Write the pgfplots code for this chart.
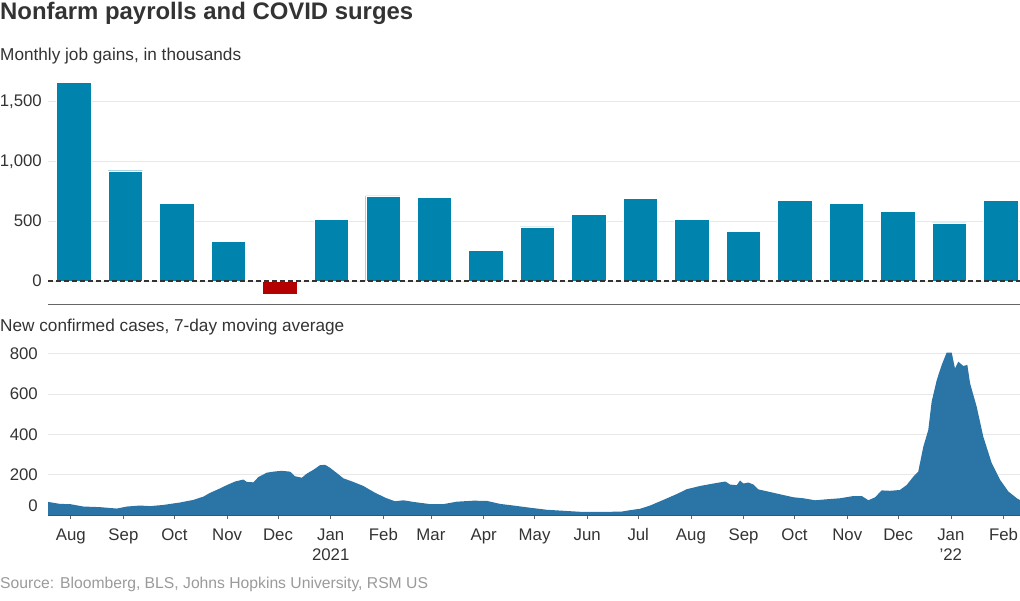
\documentclass[border=0pt]{standalone}
\usepackage{fontspec}
\setmainfont{Liberation Sans}
\usepackage{pgfplots}
\pgfplotsset{compat=1.18}

\definecolor{barblue}{HTML}{0084AD}
\definecolor{barred}{HTML}{B30000}
\definecolor{areablue}{HTML}{2B74A6}
\definecolor{gridgray}{HTML}{E8E8E8}
\definecolor{txt}{HTML}{333333}
\definecolor{srcgray}{HTML}{9A9A9A}

\newcommand\tickfont{\fontsize{16.8}{19}\selectfont}
\newcommand\subfont{\fontsize{17.2}{20}\selectfont}

% x in days since 1 Aug 2020
\pgfplotsset{
  covid/.style={
    scale only axis, width=972pt, anchor=north west,
    xmin=-13.4, xmax=558.7,
    axis lines*=left,
    y axis line style={draw=none},
    ytick style={draw=none},
    grid style={gridgray, line width=0.8pt},
    ymajorgrids,
    tick label style={font=\tickfont, text=txt},
    yticklabel style={anchor=east, inner sep=0pt, xshift=-6pt},
    /pgf/number format/assume math mode=true,
    /pgf/number format/1000 sep={,},
  }
}

\begin{document}
\begin{tikzpicture}
\useasboundingbox (0,0) rectangle (1020pt,-600pt);

\node[anchor=base west, inner sep=0, text=txt, font=\fontsize{23.9}{27}\selectfont\bfseries] at (0pt,-19.8pt) {Nonfarm payrolls and COVID surges};
\node[anchor=base west, inner sep=0, text=txt, font=\subfont] at (0pt,-60pt) {Monthly job gains, in thousands};
\node[anchor=base west, inner sep=0, text=txt, font=\subfont] at (0pt,-331pt) {New confirmed cases, 7-day moving average};
\node[anchor=base west, inner sep=0, text=srcgray, font=\fontsize{15.7}{18}\selectfont] at (0pt,-588pt) {Source: Bloomberg, BLS, Johns Hopkins University, RSM US};

% payrolls
\begin{axis}[covid,
  at={(48pt,-77.7pt)}, height=226.6pt,
  ymin=-195, ymax=1700,
  ytick={0,500,1000,1500},
  xtick=\empty,
  x axis line style={draw=black!60, line width=0.8pt},
]
\addplot[ybar, bar width=20.2, fill=barblue, draw=white, line width=0.4pt] coordinates {
  (1.8,1661) (32.1,922) (62.4,650) (92.7,332)
  (153.4,516) (183.7,711) (214.0,702) (244.3,259) (274.6,452)
  (304.9,560) (335.2,694) (365.5,518) (395.8,418) (426.1,677)
  (456.5,652) (486.8,585) (517.1,485) (547.4,677)
};
\addplot[ybar, bar width=20.2, fill=barred, draw=white, line width=0.4pt] coordinates {
  (123.0,-109)
};
\addplot[txt, line width=1.3pt, dash pattern=on 5pt off 3pt] coordinates {
  (-13.4,0) (558.7,0)
};
\end{axis}

% cases
\begin{axis}[covid,
  at={(48pt,-350.6pt)}, height=164.4pt,
  ymin=0, ymax=815, clip=false,
  ytick={200,400,600,800},
  extra y ticks={0},
  extra y tick style={grid=none, yticklabel style={yshift=9pt}},
  xtick={0,31,61,92,122,153,184,212,243,273,304,334,365,396,426,457,487,518,549},
  xticklabels={Aug,Sep,Oct,Nov,Dec,Jan,Feb,Mar,Apr,May,Jun,Jul,Aug,Sep,Oct,Nov,Dec,Jan,Feb},
  xticklabel style={anchor=base, yshift=-21.7pt},
  tick align=outside, major tick length=4pt,
  xtick style={draw=black!60, line width=0.6pt},
  x axis line style={draw=black!70, line width=0.8pt},
]
\addplot[fill=areablue, draw=none] table {
x y
-13.4 65
-6.3 55
-0.4 54
7.4 42
17.2 39
27.1 32
33 42
40.8 47
46.7 44
54.5 50
64.3 62
72.2 75
78 91
82 110
87.9 132
91.8 148
96.7 166
101.6 176
103.6 164
107.5 162
110.4 188
115.4 210
120.2 216
124.2 219
129.1 215
132 192
136 185
138.9 205
142.8 224
146.7 247
149.7 249
152.6 234
156.6 208
160.4 182
166.3 164
172.2 144
178.1 115
185 86
190.9 68
195.8 73
201.6 65
211.5 54
219.3 54
227.2 66
237 71
244.9 70
252.7 55
260.5 47
270.4 36
280.2 26
289.9 21
301.7 15
311.5 15
324.3 17
329.2 24
335.1 31
341 47
348.8 75
356.7 104
362.6 128
370.4 144
378.2 156
385.1 166
386.1 162
388 151
392 148
393.9 171
395.9 156
398.8 161
401.8 151
404.7 127
411.6 114
419.4 99
425.3 88
431.2 83
438.1 73
445 78
452.8 83
460.6 94
465.6 94
469.5 73
473.4 88
477.3 122
482.2 120
488 124
492 149
495.9 190
498.8 215
501.8 339
504.7 421
506.7 562
509.7 669
512.6 744
515.5 805
518.5 805
520.4 727
522.4 760
525.3 739
527.7 744
529.3 653
533.2 537
537.1 388
542.1 256
547 174
551.9 116
556.8 83
558.7 74
} \closedcycle;
\node[anchor=base, inner sep=0, text=txt, font=\tickfont] at (axis cs:153,0) [yshift=-45.7pt] {2021};
\node[anchor=base, inner sep=0, text=txt, font=\tickfont] at (axis cs:518,0) [yshift=-45.7pt] {'22};
\end{axis}
\end{tikzpicture}
\end{document}
